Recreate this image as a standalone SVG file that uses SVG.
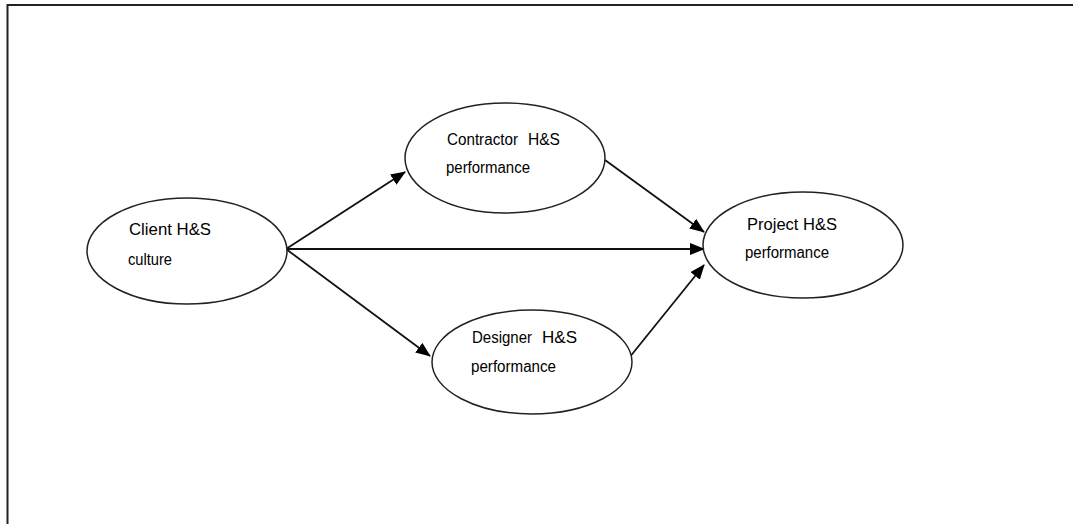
<svg xmlns="http://www.w3.org/2000/svg" width="1073" height="524" viewBox="0 0 1073 524">
<style>
.node ellipse{fill:#fff;stroke:#222;stroke-width:1.5}
.conn line{stroke:#111;stroke-width:1.8;marker-end:url(#ah)}
text{font-family:"Liberation Sans",Arial,sans-serif;font-size:16px;fill:#000}
.frame{stroke:#222;stroke-width:2;fill:none}
</style>
<defs>
<marker id="ah" markerWidth="15" markerHeight="12" refX="14" refY="6" orient="auto" markerUnits="userSpaceOnUse">
<path d="M0,0 L15,6 L0,12 Z" fill="#000"/>
</marker>
</defs>
<rect width="1073" height="524" fill="#fff"/>
<path class="frame" d="M7.5,524 V5 H1073"/>
<g id="connectors" class="conn">
<line x1="286" y1="249" x2="405" y2="172"/>
<line x1="286" y1="249" x2="704" y2="249"/>
<line x1="286" y1="249" x2="430" y2="356"/>
<line x1="605" y1="160" x2="704" y2="232"/>
<line x1="629" y1="358" x2="704" y2="265"/>
</g>
<g id="client" class="node">
<ellipse cx="187" cy="251" rx="100" ry="53"/>
<text x="129" y="235" textLength="82" lengthAdjust="spacingAndGlyphs">Client H&amp;S</text>
<text x="128" y="265" textLength="44" lengthAdjust="spacingAndGlyphs">culture</text>
</g>
<g id="contractor" class="node">
<ellipse cx="505" cy="158" rx="100" ry="55"/>
<text x="447" y="145" textLength="71" lengthAdjust="spacingAndGlyphs">Contractor</text>
<text x="528" y="145" textLength="32" lengthAdjust="spacingAndGlyphs">H&amp;S</text>
<text x="446" y="173" textLength="84" lengthAdjust="spacingAndGlyphs">performance</text>
</g>
<g id="designer" class="node">
<ellipse cx="532" cy="362" rx="100" ry="52"/>
<text x="472" y="343" textLength="60" lengthAdjust="spacingAndGlyphs">Designer</text>
<text x="542" y="343" textLength="35" lengthAdjust="spacingAndGlyphs">H&amp;S</text>
<text x="471" y="372" textLength="85" lengthAdjust="spacingAndGlyphs">performance</text>
</g>
<g id="project" class="node">
<ellipse cx="803" cy="245" rx="100" ry="53"/>
<text x="747" y="230" textLength="90" lengthAdjust="spacingAndGlyphs">Project H&amp;S</text>
<text x="745" y="258" textLength="84" lengthAdjust="spacingAndGlyphs">performance</text>
</g>
</svg>
